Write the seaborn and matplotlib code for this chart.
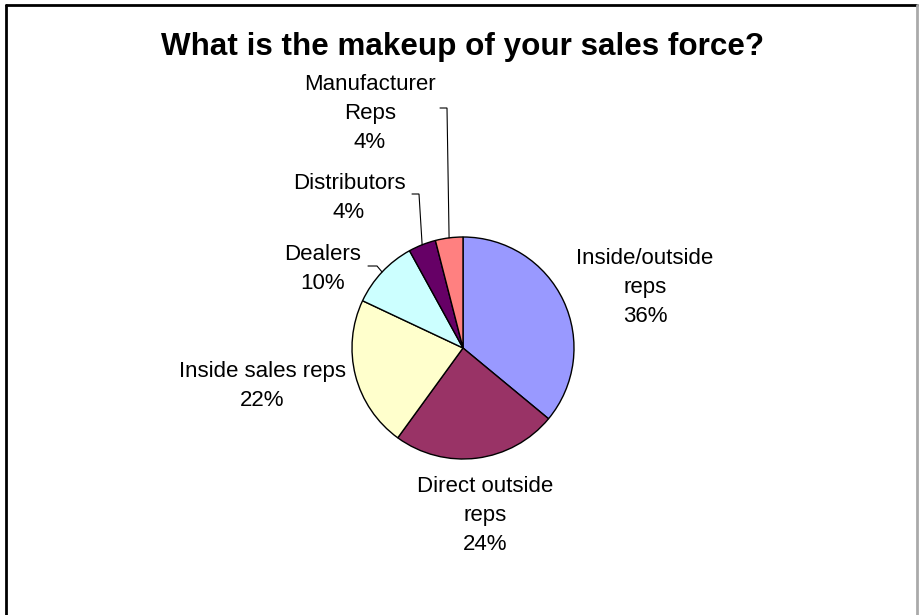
import matplotlib
matplotlib.use("Agg")
import matplotlib.pyplot as plt
import numpy as np
import seaborn as sns

# ---- data ----
categories = ["Inside/outside\nreps", "Direct outside\nreps", "Inside sales reps",
              "Dealers", "Distributors", "Manufacturer\nReps"]
values = [36, 24, 22, 10, 4, 4]
hex_colors = ["#9999FF", "#993366", "#FFFFCC", "#CCFFFF", "#660066", "#FF8080"]
title = "What is the makeup of your sales force?"

sns.set_theme(style="white")
plt.rcParams["font.family"] = ["Liberation Sans", "DejaVu Sans"]

W, H = 921, 615
fig = plt.figure(figsize=(W / 100, H / 100), dpi=100)
ax = fig.add_axes([0, 0, 1, 1])

palette = sns.color_palette(hex_colors)

# pixel-based layout (y measured from top of image)
cx, cy, R = 463, 348, 111
wedges, _ = ax.pie(values, colors=palette, startangle=90, counterclock=False,
                   radius=R, center=(cx, H - cy),
                   wedgeprops=dict(edgecolor="black", linewidth=1.0))
ax.set_xlim(0, W)
ax.set_ylim(0, H)
ax.set_aspect("auto")
ax.axis("off")

# label layout: (center x, baseline y of last line) in pixels from top
label_pos = [(645, 322), (485, 550), (262, 406), (323, 289), (349, 218), (370, 148)]
# leader lines: (elbow x, elbow y, end x) for small slices
leaders = {3: (377, 266, 368), 4: (419, 194, 412), 5: (447, 108, 440)}

for i, (w, cat, v) in enumerate(zip(wedges, categories, values)):
    lx, ly = label_pos[i]
    ax.text(lx, H - ly, f"{cat}\n{v}%", ha="center", va="baseline",
            fontsize=16, color="black", linespacing=1.5)
    if i in leaders:
        ang = np.deg2rad((w.theta1 + w.theta2) / 2)
        ex, ey = cx + R * np.cos(ang), (H - cy) + R * np.sin(ang)
        bx, by, tx = leaders[i]
        ax.plot([ex, bx, tx], [ey, H - by, H - by], color="black", lw=0.8,
                solid_joinstyle="miter")

ax.text(462, H - 55, title, ha="center", va="baseline", fontsize=22.6,
        fontweight="bold", color="black")

# outer chart border (top, left, right)
ax.plot([6, 6], [-5, H - 5], color="black", lw=2, clip_on=False)
ax.plot([6, 917], [H - 5, H - 5], color="black", lw=2, clip_on=False)
ax.plot([917, 917], [-5, H - 5], color="#aaaaaa", lw=2, clip_on=False)

fig.savefig("out.png", dpi=100)
